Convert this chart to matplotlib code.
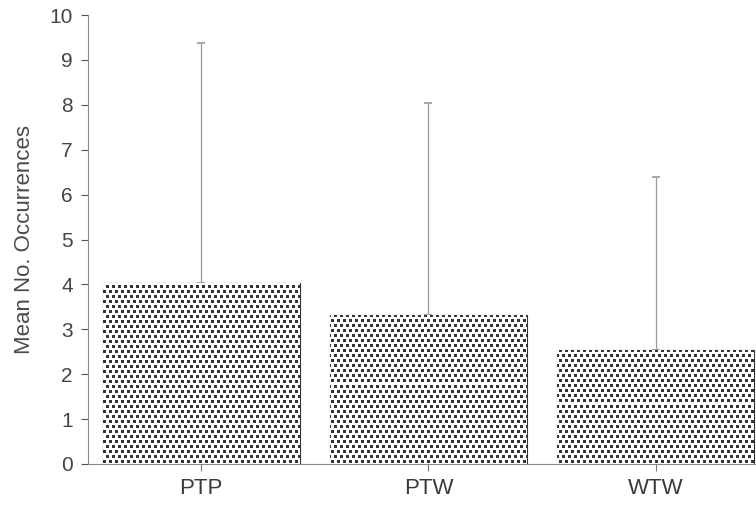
import numpy as np
import matplotlib.pyplot as plt

# bar chart: mean occurrences per pair type, upper error bars only
groups = ["PTP", "PTW", "WTW"]
means = [4.03, 3.32, 2.54]
upper_err = [5.35, 4.72, 3.85]

plt.rcParams['font.family'] = ['Liberation Sans', 'DejaVu Sans']

fig = plt.figure(figsize=(7.56, 5.11), dpi=100)
ax = fig.add_axes([0.1164, 0.092, 0.8836, 0.8786])
xlim = (-0.497, 2.44)
ylim = (0, 10)

x = np.arange(len(groups))
bars = ax.bar(x, means, width=0.866, color='white', edgecolor='#333333',
              linewidth=0.8, zorder=2)
ax.errorbar(x, means, yerr=[np.zeros(len(means)), upper_err], fmt='none',
            ecolor='#9a9a9a', elinewidth=0.9, capsize=3, capthick=1.2, zorder=1)

# stippled texture (staggered dots), clipped to each bar
h, w = 449, 668
ii, jj = np.mgrid[0:h, 0:w]
shift = (ii // 5 % 2) * 3
dots = ((ii % 5) < 3) & (((jj + shift) % 6) < 3)
tex = np.where(dots, 0.2, 1.0)
for b in bars:
    im = ax.imshow(tex, cmap='gray', vmin=0, vmax=1, extent=(*xlim, *ylim),
                   aspect='auto', interpolation='nearest', zorder=3)
    im.set_clip_path(b)

ax.set_xlim(*xlim)
ax.set_ylim(*ylim)
ax.set_yticks(range(0, 11))
ax.set_xticks(x)
ax.set_xticklabels(groups, fontsize=16, color='#3a3a3a')
ax.tick_params(axis='y', labelsize=15, colors='#555555', labelcolor='#444444', length=5, width=0.8, pad=6)
ax.tick_params(axis='x', length=5, width=0.8, colors='#777777', labelcolor='#3a3a3a', pad=5)
ax.set_ylabel('Mean No. Occurrences', fontsize=16, color='#4a4a4a', labelpad=10)

for s in ['top', 'right']:
    ax.spines[s].set_visible(False)
ax.spines['left'].set_color('#888888')
ax.spines['bottom'].set_color('#888888')

fig.savefig('out.png', dpi=100)
